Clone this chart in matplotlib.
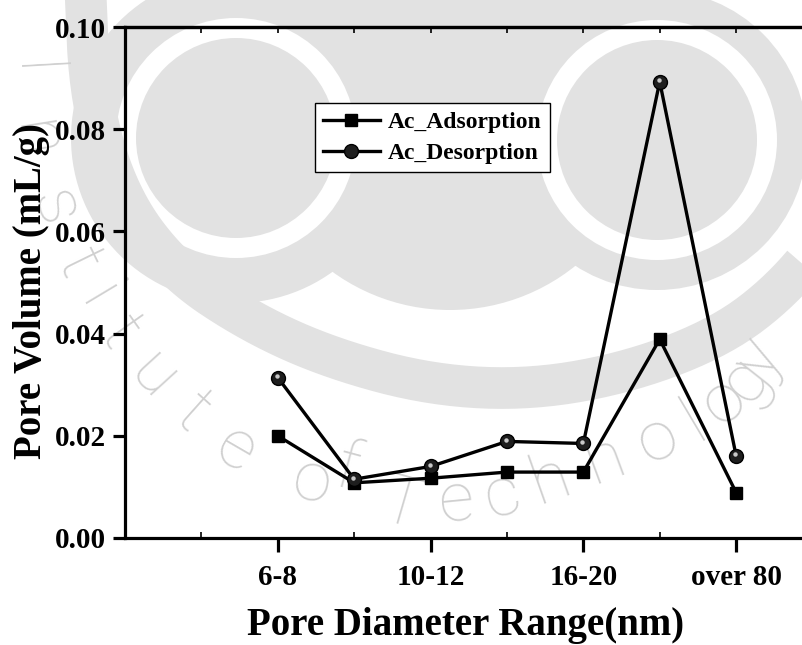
import numpy as np
import matplotlib
matplotlib.use('Agg')
import matplotlib.pyplot as plt
import matplotlib.transforms as mtransforms
from matplotlib.patches import Circle, Ellipse

plt.rcParams['font.family'] = 'Liberation Serif'
plt.rcParams['font.weight'] = 'bold'

# pore size bins (positions on the x axis) and measured pore volumes in mL/g
x_pos = [1, 2, 3, 4, 5, 6, 7]
label_pos = [1, 3, 5, 7]
label_text = ['6-8', '10-12', '16-20', 'over 80']
adsorption = [0.0200, 0.0108, 0.0117, 0.0129, 0.0129, 0.0389, 0.0089]
desorption = [0.0314, 0.0115, 0.0140, 0.0189, 0.0185, 0.0893, 0.0161]

W, H = 802, 645
fig = plt.figure(figsize=(W / 100, H / 100), dpi=100)


def chaikin(pts, n=4):
    pts = np.asarray(pts, float)
    for _ in range(n):
        q = 0.75 * pts[:-1] + 0.25 * pts[1:]
        r = 0.25 * pts[:-1] + 0.75 * pts[1:]
        pts = np.vstack([pts[:1], np.column_stack([q, r]).reshape(-1, 2), pts[-1:]])
    return pts


# faint logo stamped behind the plot, drawn in pixel coordinates
bg = fig.add_axes([0, 0, 1, 1], zorder=0)
bg.set_xlim(0, W)
bg.set_ylim(H, 0)
bg.axis('off')
gray = '#e2e2e2'

swoosh = chaikin([(85, -20), (90, 100), (120, 200), (175, 272), (250, 322),
                  (330, 358), (430, 385), (530, 390), (630, 372), (720, 337),
                  (780, 292), (830, 232)])
bg.plot(swoosh[:, 0], swoosh[:, 1], color=gray, lw=30, solid_capstyle='butt')
bg.add_patch(Ellipse((450, 110), 400, 400, color=gray, lw=0))
bg.add_patch(Circle((236, 138), 165, color=gray, lw=0))
bg.add_patch(Circle((657, 140), 150, color=gray, lw=0))
for cx, cy in [(236, 138), (657, 140)]:
    bg.add_patch(Circle((cx, cy), 120, color='white', lw=0))
    bg.add_patch(Circle((cx, cy), 100, color=gray, lw=0))

# lettering that runs round the bottom of the logo
word = 'InstituteofTechnology'
spots = np.array([(32, 72), (36, 140), (54, 208), (78, 263), (98, 298), (120, 333),
                  (153, 376), (193, 413), (236, 450), (312, 482), (347, 470),
                  (401, 506), (457, 502), (502, 496), (550, 480), (604, 460),
                  (658, 440), (694, 421), (724, 401), (746, 380), (758, 358)], float)
dx = np.gradient(spots[:, 0])
dy = np.gradient(spots[:, 1])
for ch, (sx, sy), gx, gy in zip(word, spots, dx, dy):
    bg.text(sx, sy, ch, rotation=np.degrees(np.arctan2(-gy, gx)),
            rotation_mode='anchor', ha='center', va='center', fontsize=50,
            family='Roboto', fontweight='light', color='#d0d0d0')

# main plot
ax = fig.add_axes([125 / W, 107 / H, 687.5 / W, 511 / H], zorder=1)
ax.patch.set_alpha(0)

ax.plot(x_pos, adsorption, color='black', lw=2.4, marker='s', ms=8.5,
        mfc='black', mec='black', label='Ac_Adsorption')
ax.plot(x_pos, desorption, color='black', lw=2.4, marker='o', ms=10,
        mfc='#1e1e1e', mec='black', mew=1.0, label='Ac_Desorption')
shine = mtransforms.offset_copy(ax.transData, fig=fig, x=-1.0, y=1.5, units='dots')
ax.plot(x_pos, desorption, 'o', ms=3.2, color='#c8c8c8', mec='none', transform=shine)

ax.set_xlim(-1, 8)
ax.set_ylim(0, 0.10)
ax.set_xticks(label_pos)
ax.set_xticklabels(label_text)
ax.set_xticks([0, 2, 4, 6, 8], minor=True)
ax.set_yticks(np.arange(0, 0.101, 0.02))
ax.set_yticklabels(['%.2f' % v for v in np.arange(0, 0.101, 0.02)])

for sp in ax.spines.values():
    sp.set_linewidth(2.3)
ax.tick_params(axis='x', which='major', direction='out', length=10, width=2.3,
               labelsize=21, pad=9)
ax.tick_params(axis='x', which='minor', direction='in', length=4, width=1.2)
ax.tick_params(axis='y', which='major', direction='out', length=9, width=2.3,
               labelsize=21, pad=5)

top = ax.secondary_xaxis('top')
top.set_xticks([0, 1, 2, 3, 4, 5, 6, 7, 8])
top.set_xticklabels([])
top.tick_params(direction='in', length=4, width=1.2)
top.spines['top'].set_linewidth(2.3)

ax.set_xlabel('Pore Diameter Range(nm)', fontsize=28, fontweight='bold')
ax.set_ylabel('Pore Volume (mL/g)', fontsize=28, fontweight='bold')
ax.xaxis.set_label_coords(0.496, -0.136)
ax.yaxis.set_label_coords(-0.109, 0.483)

leg = ax.legend(loc='upper left', bbox_to_anchor=(0.276, 0.851), borderaxespad=0,
                prop={'family': 'Liberation Serif', 'weight': 'bold', 'size': 17},
                handlelength=2.4, handletextpad=0.35, labelspacing=0.4,
                borderpad=0.35, fancybox=False, framealpha=1)
leg.get_frame().set_edgecolor('black')
leg.get_frame().set_linewidth(1.0)

fig.savefig('out.png', dpi=100)
